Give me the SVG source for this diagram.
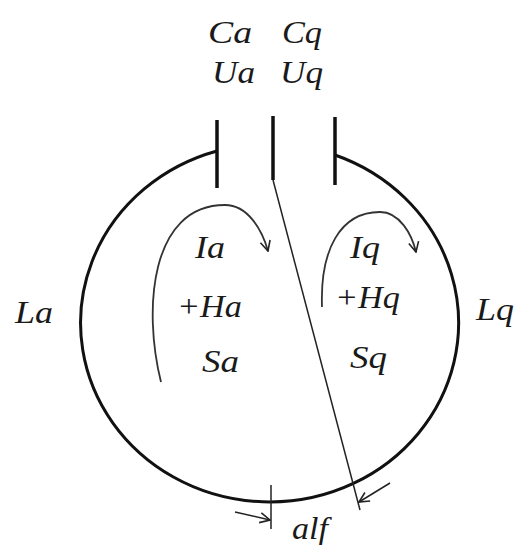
<svg xmlns="http://www.w3.org/2000/svg" width="517" height="545" viewBox="0 0 517 545">
<style>
.t{font-family:"Liberation Serif","Times New Roman",serif;font-style:italic;font-size:32px;fill:#1a1a1a}
.thin{fill:none;stroke:#222;stroke-width:1.5}
.cur{fill:none;stroke:#333;stroke-width:1.8}
.plate{stroke:#111;stroke-width:3.5}
</style>
<defs>
<marker id="ah" viewBox="0 0 12 12" refX="11" refY="6" markerWidth="12" markerHeight="12" markerUnits="userSpaceOnUse" orient="auto">
<path d="M1,1 L11,6 L1,11" fill="none" stroke="#222" stroke-width="1.6"/>
</marker>
</defs>
<rect width="517" height="545" fill="#fff"/>
<g id="body">
<path d="M217,151 A189,179 0 1 0 335,155" fill="none" stroke="#111" stroke-width="3"/>
</g>
<g id="plates">
<line class="plate" x1="217" y1="120" x2="217" y2="188"/>
<line class="plate" x1="273" y1="116" x2="273" y2="180"/>
<line class="plate" x1="335" y1="117" x2="335" y2="185"/>
</g>
<g id="connectors">
<line class="thin" x1="273" y1="180" x2="360" y2="510"/>
<line class="thin" x1="271" y1="485" x2="271" y2="529"/>
<path class="cur" d="M161,382 C143,310 150,205 225,205 C248,205 262,230 268,251" marker-end="url(#ah)"/>
<path class="cur" d="M322,307 C320,250 340,212 380,212 C400,212 412,235 416,252" marker-end="url(#ah)"/>
<line class="thin" x1="235" y1="512" x2="270" y2="520" marker-end="url(#ah)"/>
<line class="thin" x1="390" y1="483" x2="359" y2="502" marker-end="url(#ah)"/>
</g>
<g id="labels">
<text class="t" x="208" y="43" textLength="44" lengthAdjust="spacingAndGlyphs">Ca</text>
<text class="t" x="282" y="43" textLength="40" lengthAdjust="spacingAndGlyphs">Cq</text>
<text class="t" x="212" y="83" textLength="43" lengthAdjust="spacingAndGlyphs">Ua</text>
<text class="t" x="280" y="83" textLength="43" lengthAdjust="spacingAndGlyphs">Uq</text>
<text class="t" x="195" y="258" textLength="30" lengthAdjust="spacingAndGlyphs">Ia</text>
<text class="t" x="177" y="317" textLength="65" lengthAdjust="spacingAndGlyphs">+Ha</text>
<text class="t" x="202" y="372" textLength="37" lengthAdjust="spacingAndGlyphs">Sa</text>
<text class="t" x="350" y="258" textLength="30" lengthAdjust="spacingAndGlyphs">Iq</text>
<text class="t" x="335" y="308" textLength="65" lengthAdjust="spacingAndGlyphs">+Hq</text>
<text class="t" x="350" y="368" textLength="37" lengthAdjust="spacingAndGlyphs">Sq</text>
<text class="t" x="15" y="323" textLength="38" lengthAdjust="spacingAndGlyphs">La</text>
<text class="t" x="476" y="320" textLength="38" lengthAdjust="spacingAndGlyphs">Lq</text>
<text class="t" x="292" y="539" textLength="36" lengthAdjust="spacingAndGlyphs">alf</text>
</g>
</svg>
